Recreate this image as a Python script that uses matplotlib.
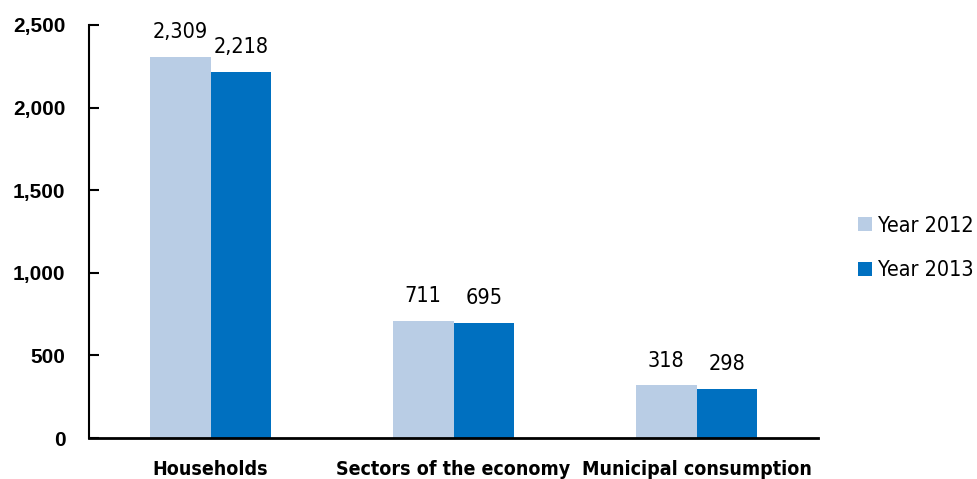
import matplotlib
matplotlib.use("Agg")
import matplotlib.pyplot as plt
import numpy as np

categories = ["Households", "Sectors of the economy", "Municipal consumption"]
year_2012 = [2309, 711, 318]
year_2013 = [2218, 695, 298]
series_names = ["Year 2012", "Year 2013"]
yticks = [0, 500, 1000, 1500, 2000, 2500]

fig = plt.figure(figsize=(9.77, 4.79), dpi=100)
ax = fig.add_axes([89/977, 1-438/479, (818-89)/977, (438-25)/479])

x = np.arange(len(categories))
w = 0.25
c1, c2 = "#B9CDE5", "#0070C0"
b1 = ax.bar(x - w/2, year_2012, w, color=c1, label=series_names[0])
b2 = ax.bar(x + w/2, year_2013, w, color=c2, label=series_names[1])

for bars, vals in ((b1, year_2012), (b2, year_2013)):
    for r, v in zip(bars, vals):
        ax.annotate(f"{v:,}", (r.get_x() + r.get_width()/2, v), xytext=(0, 13.5),
                    textcoords="offset points", ha="center", va="baseline",
                    fontsize=15.5, family="DejaVu Sans", fontstretch="condensed")

ax.set_xlim(-0.5, 2.5)
ax.set_ylim(0, 2500)
ax.set_yticks(yticks)
ax.set_yticklabels([f"{t:,}" for t in yticks], fontsize=15, fontweight="bold", family="Liberation Sans")
ax.set_xticks(x)
ax.set_xticklabels(categories, fontsize=14, fontweight="bold", family="DejaVu Sans",
                   fontstretch="condensed")
ax.tick_params(axis="x", length=0, pad=16)
ax.tick_params(axis="y", direction="in", length=7, width=1.5, pad=17)
for s in ("top", "right"):
    ax.spines[s].set_visible(False)
ax.spines["left"].set_linewidth(1.5)
ax.spines["bottom"].set_linewidth(2)

leg = fig.legend(handles=[b1, b2], labels=series_names, loc="center left",
                 bbox_to_anchor=(858/977, 1-248/479), frameon=False,
                 prop={"family": "DejaVu Sans", "stretch": "condensed", "size": 15.5},
                 handlelength=0.65, handleheight=0.65,
                 handletextpad=0.3, labelspacing=1.15, borderpad=0, borderaxespad=0)
fig.savefig("out.png", dpi=100)
